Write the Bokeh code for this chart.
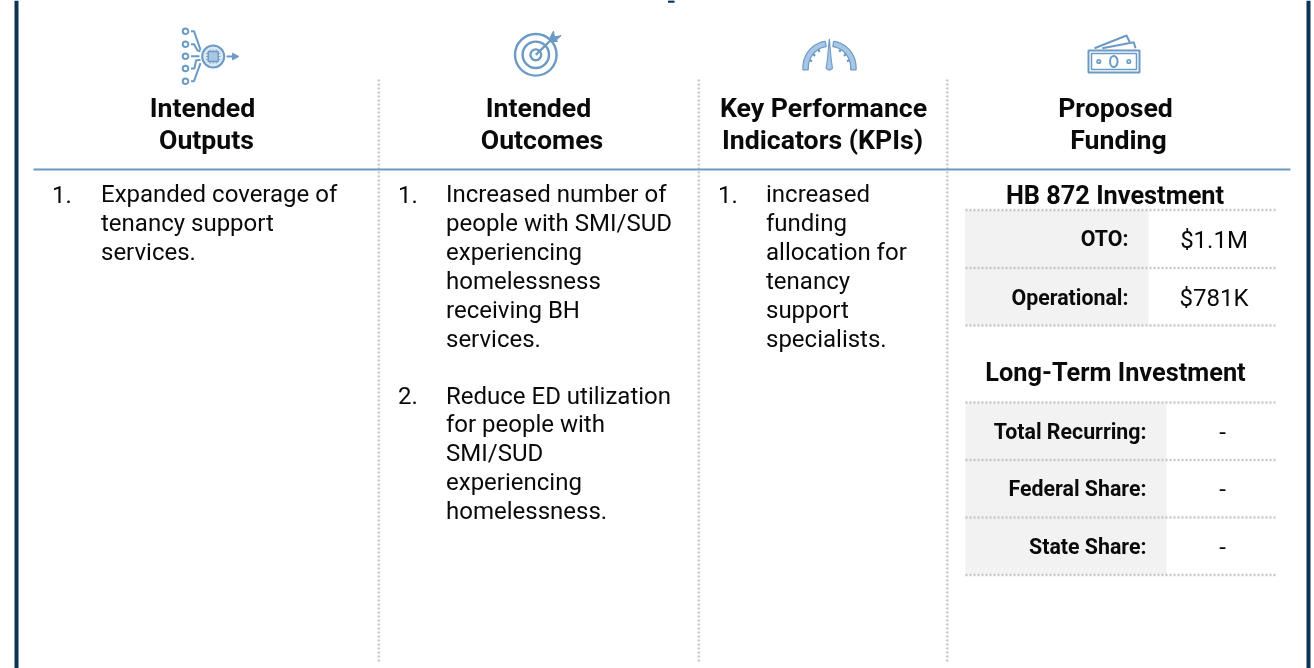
from bokeh.plotting import figure
from bokeh.embed import file_html
from bokeh.resources import INLINE
from bokeh.core.properties import value
import numpy as np

# ---------- content ----------
headers = [["Intended", "Outputs"], ["Intended", "Outcomes"],
           ["Key Performance", "Indicators (KPIs)"], ["Proposed", "Funding"]]
outputs = [["Expanded coverage of", "tenancy support", "services."]]
outcomes = [["Increased number of", "people with SMI/SUD", "experiencing", "homelessness",
             "receiving BH", "services."],
            ["Reduce ED utilization", "for people with", "SMI/SUD", "experiencing", "homelessness."]]
kpis = [["increased", "funding", "allocation for", "tenancy", "support", "specialists."]]
section_titles = ["HB 872 Investment", "Long-Term Investment"]
hb_labels = ["OTO:", "Operational:"]
hb_values = ["$1.1M", "$781K"]
lt_labels = ["Total Recurring:", "Federal Share:", "State Share:"]
lt_values = ["-", "-", "-"]

NAVY = "#0b3354"
BLUE = "#6b9ac4"
LIGHT = "#a9c7e4"
PALE = "#dce8f3"
GREY = "#f2f2f2"
DOT = "#c6c6c6"
INK = "#0a0a0a"
FONT = value("Roboto")

p = figure(width=1314, height=668, x_range=(0, 1314), y_range=(668, 0),
           toolbar_location=None, output_backend="svg", min_border=0,
           outline_line_color=None,
           styles={"position": "fixed", "left": "0px", "top": "0px"})
p.axis.visible = False
p.grid.visible = False


def txt(x, y, s, size=24, bold=False, align="left", color=INK):
    p.text([x], [y], text=[s], text_font=FONT, text_font_size=f"{size}px",
           text_font_style="bold" if bold else "normal", text_align=align,
           text_baseline="middle", text_color=color)


def dotted(xs, ys):
    p.line(xs, ys, line_color=DOT, line_width=2.4, line_dash="2 2")


# frame
p.line([16, 16], [0, 668], line_color=NAVY, line_width=4)
p.line([1308, 1308], [0, 668], line_color=NAVY, line_width=4)
p.line([667.5, 674], [1, 1], line_color=NAVY, line_width=2.5)

# column rules
for x in (378.3, 698.3, 946.8):
    dotted([x, x], [79, 662])
p.line([33, 1290], [169, 169], line_color=BLUE, line_width=2)

# headers
for (cx1, cx2), (a, b) in zip(((202, 206), (538, 541.5), (823, 822), (1115, 1118)), headers):
    txt(cx1, 107.5, a, 26.67, True, "center")
    txt(cx2, 139.5, b, 26.67, True, "center")


def numbered(xn, xt, y0, items, gap=28.9, para=57):
    y = y0
    for i, lines in enumerate(items):
        txt(xn, y, f"{i + 1}.")
        for j, line in enumerate(lines):
            txt(xt, y + j * gap, line)
        y += (len(lines) - 1) * gap + para


numbered(51.5, 100.5, 193.5, outputs)
numbered(397.5, 445.5, 193.5, outcomes)
numbered(717.5, 765.5, 193.5, kpis)

# funding tables
txt(1114.5, 195, section_titles[0], 25.33, True, "center")
p.quad(left=[964.5], right=[1148], top=[209.5], bottom=[325], fill_color=GREY, line_color=None)
for y in (209.5, 267.5, 325):
    dotted([965, 1277], [y, y])
for i, (l, v) in enumerate(zip(hb_labels, hb_values)):
    txt(1128, 238 + i * 58.5, l, 21.33, True, "right")
    txt(1213.5, 239 + i * 58, v, 24, False, "center")

txt(1115, 371.5, section_titles[1], 25.33, True, "center")
p.quad(left=[965], right=[1166], top=[402], bottom=[574.5], fill_color=GREY, line_color=None)
for y in (402, 459.5, 517, 574.5):
    dotted([965, 1277], [y, y])
for i, (l, v) in enumerate(zip(lt_labels, lt_values)):
    txt(1146, 430.5 + i * 57.5, l, 21.33, True, "right")
    txt(1222, 430.5 + i * 57.5, v, 24, False, "center")


# ---------- icons ----------
def ring(cx, cy, r, w=2, fill="white"):
    p.scatter([cx], [cy], size=2 * r, marker="circle", line_color=BLUE, line_width=w,
              fill_color=fill)


def seg(xs, ys, w=2):
    p.line(xs, ys, line_color=BLUE, line_width=w)


# outputs icon
for y, path in zip((30.7, 43.7, 55.7, 68, 80.7),
                   (([190.5, 193.5, 200], [30.7, 30.7, 49.3]),
                    ([190.5, 193.5, 197, 200], [43.7, 43.7, 50, 50.7]),
                    ([190.5, 199], [55.7, 55.7]),
                    ([190.5, 194, 195.5, 200], [68, 68, 60, 59.3]),
                    ([190.5, 193.5, 200], [80.7, 80.7, 62.7]))):
    ring(185, y, 2.8, 2)
    seg(*path, 2)
ring(212.7, 56, 11, 2, PALE)
for d in (-3, 0, 3):
    seg([205.5, 219.9], [56 + d, 56 + d], 0.8)
    seg([212.7 + d, 212.7 + d], [48.8, 63.2], 0.8)
p.quad(left=[207.7], right=[217.7], top=[51], bottom=[61], fill_color=LIGHT, line_color=BLUE, line_width=1.4)
seg([226, 232], [56, 56], 2)
p.patch([232, 238.3, 232], [52.7, 56, 59.3], fill_color=BLUE, line_color=BLUE)

# outcomes icon
for r in (20.8, 13.2, 5.4):
    ring(535.3, 54.3, r, 2.4)
seg([535.3, 552], [54.3, 38], 2.4)
p.patch([549.5, 553, 554, 560.7, 556, 557, 552],
        [37, 30.5, 36.5, 35, 39.5, 41, 41], fill_color=BLUE, line_color=BLUE, line_width=1)

# KPI gauge
CX, CY = 829, 67
ro, ri = 26.6, 21.2
for sgn in (-1, 1):
    aa = np.radians(np.linspace(180, 99, 24))
    ox = CX - sgn * ro * np.cos(aa)
    oy = CY - ro * np.sin(aa)
    ix = CX - sgn * ri * np.cos(aa)
    iy = CY - ri * np.sin(aa)
    xs = [ox[0]] + list(ox) + list(ix[::-1]) + [ix[0]]
    ys = [69.3] + list(oy) + list(iy[::-1]) + [69.3]
    p.patch(xs, ys, fill_color=LIGHT, line_color=BLUE, line_width=1.2)
    for deg in (160, 141, 122):
        c, s = np.cos(np.radians(deg)), np.sin(np.radians(deg))
        seg([CX - sgn * 21.5 * c, CX - sgn * 18.5 * c], [CY - 21.5 * s, CY - 18.5 * s], 2.2)
p.patch([828.8, 830.6, 832, 828.8, 825.6, 827], [38.3, 58, 68, 69.8, 68, 58], fill_color=LIGHT,
        line_color=BLUE, line_width=1.1)

# money icon
seg([1094, 1126, 1129.3], [47.7, 35, 41.7])
seg([1101.7, 1133.3, 1135], [47.7, 41.7, 47.7])
p.quad(left=[1088], right=[1139], top=[50], bottom=[72], fill_color="white", line_color=BLUE, line_width=2)
p.quad(left=[1091], right=[1136], top=[53], bottom=[69], fill_color="white", line_color=BLUE, line_width=1.5)
p.ellipse([1113.3], [61], width=7.5, height=11, fill_color="white", line_color=BLUE, line_width=2)
ring(1098.3, 61, 1.8, 1.5, PALE)
ring(1128.3, 61, 1.8, 1.5, PALE)

open("out.html", "w").write(file_html(p, INLINE))
